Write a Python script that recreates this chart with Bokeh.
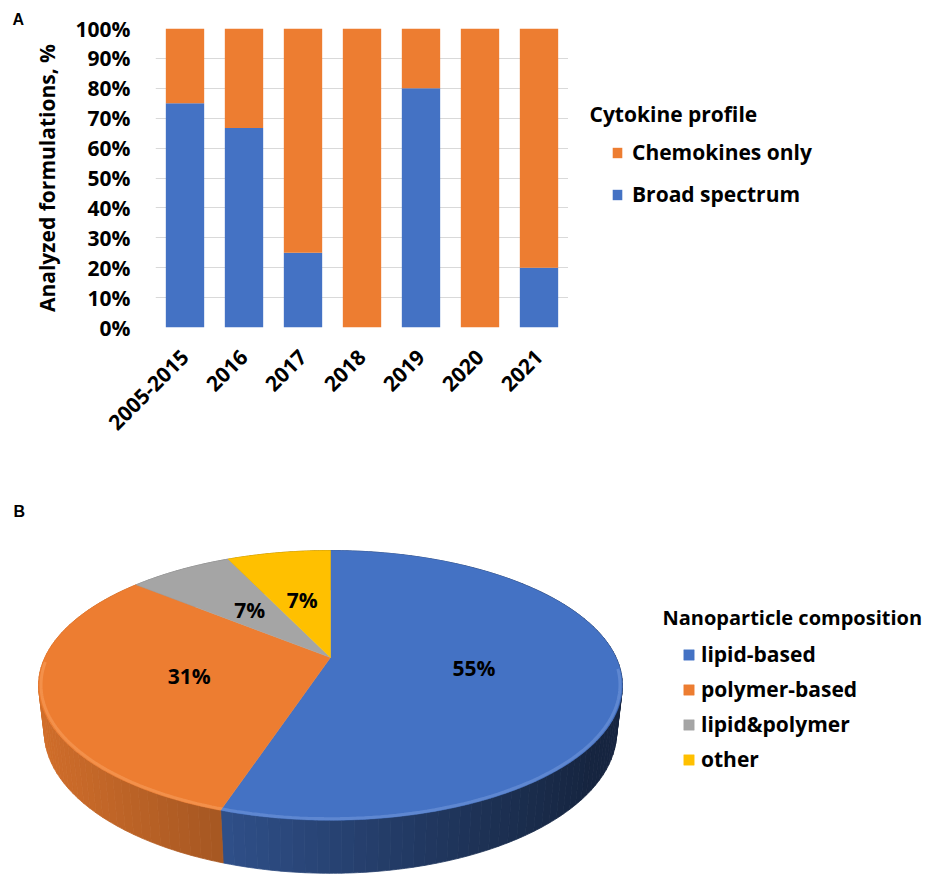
import math
import numpy as np
from bokeh.plotting import figure
from bokeh.models import (ColumnDataSource, FactorRange, Range1d, Legend, LegendItem, Label,
                          PrintfTickFormatter, FixedTicker)
from bokeh.layouts import column, row
from bokeh.embed import file_html
from bokeh.resources import INLINE
from bokeh.core.properties import value

# ---------------- data ----------------
years = ["2005-2015", "2016", "2017", "2018", "2019", "2020", "2021"]
broad_spectrum = [75, 66.7, 25, 0, 80, 0, 20]
chemokines_only = [25, 33.3, 75, 100, 20, 100, 80]
y_ticks = [0, 10, 20, 30, 40, 50, 60, 70, 80, 90, 100]
profile_labels = ["Chemokines only", "Broad spectrum"]

comp_labels = ["lipid-based", "polymer-based", "lipid&polymer", "other"]
comp_share = [55, 31, 7, 7]

# ---------------- style ----------------
BLUE = "#4472C4"
ORANGE = "#ED7D31"
GREY = "#A5A5A5"
GOLD = "#FFC000"
FONT = "Open Sans"
slice_colors = [BLUE, ORANGE, GREY, GOLD]

# ================= Panel A =================
top = figure(x_range=FactorRange(*years), y_range=Range1d(0, 100),
             width=568, height=498, output_backend="svg", toolbar_location=None,
             min_border_left=155, min_border_right=0, min_border_top=28,
             min_border_bottom=171, frame_align=False)
top.outline_line_color = None
top.xgrid.visible = False
top.ygrid.grid_line_color = "#D9D9D9"
top.ygrid.grid_line_width = 1

top.title.text = "A"
top.title.align = "left"
top.title.offset = -143
top.title.standoff = 2
top.title.text_font = "Liberation Sans"
top.title.text_font_style = "bold"
top.title.text_font_size = "16px"
top.title.text_color = "black"

src = ColumnDataSource(dict(years=years, broad=broad_spectrum, chem=chemokines_only))
rs = top.vbar_stack(["broad", "chem"], x="years", width=0.65,
                    fill_color=[BLUE, ORANGE], line_color=None, source=src)

top.yaxis.ticker = FixedTicker(ticks=y_ticks)
top.yaxis.formatter = PrintfTickFormatter(format="%d%%")
top.yaxis.axis_label = "Analyzed formulations, %"
for ax in (top.xaxis[0], top.yaxis[0]):
    ax.axis_line_color = None
    ax.major_tick_line_color = None
    ax.minor_tick_line_color = None
    ax.major_label_text_font = FONT
    ax.major_label_text_font_style = "bold"
    ax.major_label_text_font_size = "21px"
    ax.major_label_text_color = "black"
top.yaxis.major_label_standoff = 19
top.yaxis.axis_label_standoff = 12
top.yaxis.axis_label_text_font = FONT
top.yaxis.axis_label_text_font_style = "bold"
top.yaxis.axis_label_text_font_size = "21px"
top.yaxis.axis_label_text_color = "black"
top.xaxis.major_label_orientation = math.pi / 4
top.xaxis.major_label_standoff = 20

# legend panel for A (separate canvas to the right of the bar chart)
leg = figure(width=368, height=498, x_range=Range1d(568, 936), y_range=Range1d(498, 0),
             output_backend="svg", toolbar_location=None, min_border=0,
             x_axis_location=None, y_axis_location=None, frame_align=False)
leg.outline_line_color = None
leg.grid.visible = False
# zero-height key bars (outside the visible range) used only as legend swatches
key_chem = leg.vbar(x=[0], top=[0], width=1, fill_color=ORANGE, line_color=None)
key_broad = leg.vbar(x=[0], top=[0], width=1, fill_color=BLUE, line_color=None)
legA = Legend(items=[LegendItem(label=profile_labels[0], renderers=[key_chem]),
                     LegendItem(label=profile_labels[1], renderers=[key_broad])],
              location=(43, 290), border_line_color=None, background_fill_alpha=0,
              padding=0, margin=0, spacing=14, label_height=25,
              glyph_width=12, glyph_height=13, label_standoff=9,
              label_text_font=FONT, label_text_font_style="bold",
              label_text_font_size="21px", label_text_color="black")
leg.add_layout(legA)
leg.add_layout(Label(x=589, y=113, text="Cytokine profile", text_font=FONT,
                     text_font_style="bold", text_font_size="21px", text_color="black",
                     text_baseline="alphabetic"))

# ================= Panel B =================
bot = figure(width=936, height=381, x_range=Range1d(0, 936), y_range=Range1d(879, 498),
             output_backend="svg", toolbar_location=None, min_border=0,
             x_axis_location=None, y_axis_location=None, frame_align=False)
bot.outline_line_color = None
bot.grid.visible = False

CX, CY = 330.0, 657.0
SIN_A = 0.452
COS_A = math.sqrt(1 - SIN_A ** 2)
R = 0.232
F = 1231.0
H = 0.042


def proj(theta_deg, r=1.0, depth=0.0):
    t = np.radians(theta_deg)
    X = r * R * np.sin(t)
    Z = r * R * np.cos(t)
    Y = -depth
    yc = Y * COS_A + Z * SIN_A
    zc = 1 + Z * COS_A - Y * SIN_A
    return CX + F * X / zc, CY - F * yc / zc


def shade(hexcol, f):
    h = hexcol.lstrip("#")
    r, g, b = (int(h[i:i + 2], 16) for i in (0, 2, 4))
    return "#%02x%02x%02x" % (int(r * f), int(g * f), int(b * f))


total = float(sum(comp_share))
bounds = np.concatenate([[0.0], np.cumsum(comp_share) / total * 360.0])

# sides
side_xs, side_ys, side_cols = [], [], []
for i in range(len(comp_share)):
    a0, a1 = bounds[i], bounds[i + 1]
    n = max(2, int(math.ceil((a1 - a0) / 2.0)))
    edges = np.linspace(a0, a1, n + 1)
    for j in range(n):
        ta = np.linspace(edges[j], edges[j + 1], 4)
        tx, ty = proj(ta)
        bx, by = proj(ta[::-1], depth=H)
        xs = np.concatenate([tx, bx])
        ys = np.concatenate([ty, by])
        mx = float(np.mean(tx))
        f = 0.88 - (mx - 40) * 0.001
        f = min(max(f, 0.33), 0.95)
        side_xs.append(list(xs))
        side_ys.append(list(ys))
        side_cols.append(shade(slice_colors[i], f))
bot.patches(xs="xs", ys="ys", fill_color="c", line_color="c", line_width=0.8,
            source=ColumnDataSource(dict(xs=side_xs, ys=side_ys, c=side_cols)))

# top faces
top_xs, top_ys = [], []
for i in range(len(comp_share)):
    ta = np.linspace(bounds[i], bounds[i + 1], 120)
    tx, ty = proj(ta)
    top_xs.append([CX] + list(tx))
    top_ys.append([CY] + list(ty))
face_src = ColumnDataSource(dict(xs=top_xs, ys=top_ys, c=slice_colors, label=comp_labels))
faces = bot.patches(xs="xs", ys="ys", fill_color="c", line_color="c", line_width=0.5,
                    source=face_src)

# rim highlight on the front edge
rim_xs, rim_ys, rim_cols = [], [], []
for i in range(len(comp_share)):
    a0, a1 = max(bounds[i], 95.0), min(bounds[i + 1], 268.0)
    if a1 > a0:
        ta = np.linspace(a0, a1, 80)
        tx, ty = proj(ta, r=0.992)
        rim_xs.append(list(tx))
        rim_ys.append(list(ty))
        rim_cols.append(slice_colors[i])
bot.multi_line(xs="xs", ys="ys", line_color="c", line_width=3, line_alpha=0.35,
               source=ColumnDataSource(dict(xs=rim_xs, ys=rim_ys,
                                            c=["#8fb0ea" if c == BLUE else "#ffb47a" for c in rim_cols])))

# percentage labels
mids = (bounds[:-1] + bounds[1:]) / 2.0
lx, ly = proj(mids, r=0.5)
bot.text(x=list(lx), y=list(ly), text=["%d%%" % v for v in comp_share],
         text_font=value(FONT), text_font_style="bold", text_font_size="21px",
         text_color="black", text_align="center", text_baseline="middle")

legB = Legend(items=[LegendItem(label=comp_labels[i], renderers=[faces], index=i)
                     for i in range(len(comp_labels))],
              location=(682, 106), border_line_color=None, background_fill_alpha=0,
              padding=0, margin=0, spacing=7, label_height=25,
              glyph_width=13, glyph_height=13, label_standoff=6,
              label_text_font=FONT, label_text_font_style="bold",
              label_text_font_size="21px", label_text_color="black")
bot.add_layout(legB)

bot.add_layout(Label(x=662, y=617, text="Nanoparticle composition", text_font=FONT,
                     text_font_style="bold", text_font_size="20px", text_color="black",
                     text_baseline="alphabetic"))
bot.add_layout(Label(x=13, y=511, text="B", text_font="Liberation Sans",
                     text_font_style="bold", text_font_size="16px", text_color="black",
                     text_baseline="alphabetic"))

layout = column(row(top, leg, spacing=0), bot, spacing=0)
open("out.html", "w").write(file_html(layout, INLINE))
